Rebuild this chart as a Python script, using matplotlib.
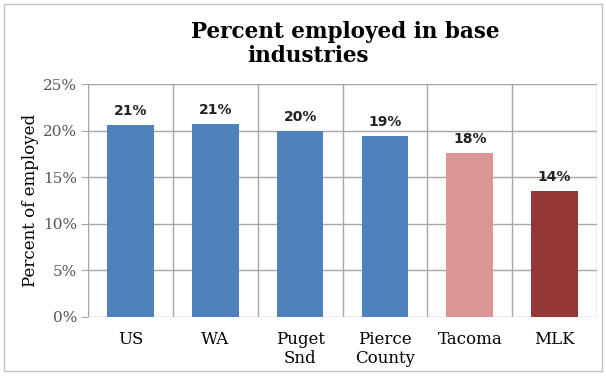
import matplotlib.pyplot as plt
from matplotlib.patches import Rectangle
from matplotlib.ticker import FuncFormatter

# percent of employed working in base industries
places = ['US', 'WA', 'Puget\nSnd', 'Pierce\nCounty', 'Tacoma', 'MLK']
share = [20.6, 20.7, 20.0, 19.4, 17.6, 13.5]
colors = ['#4F81BD', '#4F81BD', '#4F81BD', '#4F81BD', '#D99694', '#953735']
yticks = [0, 5, 10, 15, 20, 25]

plt.rcParams['font.family'] = 'DejaVu Serif'

fig = plt.figure(figsize=(6.06, 3.76), dpi=100)
ax = fig.add_axes([88 / 606, 1 - 317 / 376, 509 / 606, 233 / 376])

x = range(len(places))
ax.bar(x, share, width=0.55, color=colors, zorder=3)

for xi, v in zip(x, share):
    ax.text(xi, v + 1.5, f'{v:.0f}%', ha='center', va='center',
            fontsize=10, fontweight='bold', family='DejaVu Sans', color='#222222')

ax.set_xlim(-0.5, len(places) - 0.5)
ax.set_ylim(0, 25)
ax.set_yticks(yticks)
ax.yaxis.set_major_formatter(FuncFormatter(lambda v, p: f'{v:.0f}%'))
ax.set_xticks(x)
ax.set_xticklabels(places, fontsize=12, linespacing=1.15)

# gridlines between categories and at each y tick
for b in range(len(places) + 1):
    ax.axvline(b - 0.5, color='#A6A6A6', lw=1, zorder=1)
ax.grid(axis='y', color='#A6A6A6', lw=1, zorder=1)

for s in ax.spines.values():
    s.set_visible(False)
ax.tick_params(axis='x', length=0, pad=10)
ax.tick_params(axis='y', length=5, color='#A6A6A6', labelsize=11,
               labelcolor='#555555', pad=3)

ax.set_ylabel('Percent of employed', fontsize=12, labelpad=3)

fig.text(345 / 606, 1 - 32 / 376, 'Percent employed in base', ha='center',
         va='center', fontsize=15.5, fontweight='bold')
fig.text(308 / 606, 1 - 56 / 376, 'industries', ha='center', va='center',
         fontsize=15.5, fontweight='bold')

# outer chart border
fig.patches.append(Rectangle((4 / 606, 5 / 376), 598 / 606, 367 / 376,
                             transform=fig.transFigure, fill=False,
                             edgecolor='#BFBFBF', lw=1))

fig.savefig('out.png', dpi=100)
